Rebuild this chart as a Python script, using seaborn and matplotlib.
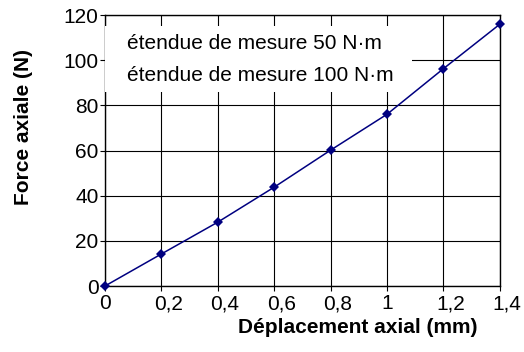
"""
Force axiale vs déplacement axial.
"""

import matplotlib
matplotlib.use("Agg")
from matplotlib import pyplot as plt
from matplotlib.patches import Rectangle
import matplotlib.transforms as mtransforms
import pandas as pd
import seaborn as sns

# Data
deplacement = [0, 0.2, 0.4, 0.6, 0.8, 1.0, 1.2, 1.4]
force = [0, 14.2, 28.3, 43.8, 60.2, 76.1, 96.3, 116]
x_ticks = [0, 0.2, 0.4, 0.6, 0.8, 1.0, 1.2, 1.4]
x_tick_labels = ["0", "0,2", "0,4", "0,6", "0,8", "1", "1,2", "1,4"]
y_ticks = [0, 20, 40, 60, 80, 100, 120]
legend_labels = ["étendue de mesure 50 N·m", "étendue de mesure 100 N·m"]

sns.set_style("ticks", {"text.color": "black", "axes.labelcolor": "black",
                        "xtick.color": "black", "ytick.color": "black",
                        "axes.edgecolor": "black"})
plt.rcParams["font.family"] = ["Liberation Sans", "DejaVu Sans"]

df = pd.DataFrame({"x": deplacement, "y": force})

fig, ax = plt.subplots(figsize=(5.24, 3.52), dpi=100)
fig.subplots_adjust(left=0.2004, right=0.954, top=0.957, bottom=0.1875)

# grid behind everything
ax.set_axisbelow(True)
ax.grid(True, color="black", linewidth=0.8)

sns.lineplot(data=df, x="x", y="y", ax=ax, color="#000080", linewidth=1.1,
             marker="D", markersize=5, markeredgewidth=0, clip_on=False,
             zorder=5)

ax.set_xlim(0, 1.4)
ax.set_ylim(0, 120)
ax.set_xticks(x_ticks)
ax.set_xticklabels(x_tick_labels)
ax.set_yticks(y_ticks)
ax.tick_params(direction="out", length=3.6, width=0.8, colors="black",
               labelsize=15)
ax.tick_params(axis="y", pad=1)
ax.tick_params(axis="x", pad=2.5)

for side in ["left", "right", "top", "bottom"]:
    ax.spines[side].set_visible(True)
    ax.spines[side].set_color("black")
    ax.spines[side].set_linewidth(1.0)

ax.set_xlabel("Déplacement axial (mm)", fontsize=15, fontweight="bold",
              color="black")
ax.set_ylabel("Force axiale (N)", fontsize=15, fontweight="bold",
              color="black")
ax.xaxis.set_label_coords(0.64, -0.118)
ax.yaxis.set_label_coords(-0.182, 0.587)

# white box with the two range labels
ax.add_patch(Rectangle((0, 0.716), 0.777, 0.243, transform=ax.transAxes,
                       facecolor="white", edgecolor="none", zorder=3))
for label, ypos in zip(legend_labels, [0.897, 0.777]):
    ax.text(0.0557, ypos, label, transform=ax.transAxes, fontsize=15,
            color="black", va="center", ha="left", zorder=4)

# decimal labels sit slightly right of their tick in the original
fig.canvas.draw()
shift = mtransforms.ScaledTranslation(5 / 72, 0, fig.dpi_scale_trans)
for tick in ax.xaxis.get_major_ticks():
    if "," in tick.label1.get_text():
        tick.label1.set_transform(tick.label1.get_transform() + shift)

plt.savefig("out.png", dpi=100)
